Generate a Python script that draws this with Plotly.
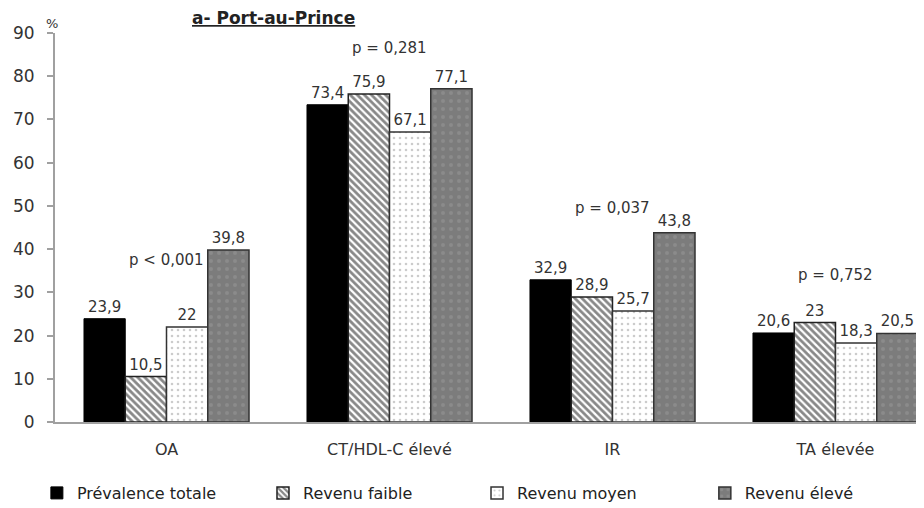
import plotly.graph_objects as go

categories = ["OA", "CT/HDL-C élevé", "IR", "TA élevée"]
series_names = ["Prévalence totale", "Revenu faible", "Revenu moyen", "Revenu élevé"]
prevalence_totale = [23.9, 73.4, 32.9, 20.6]
revenu_faible = [10.5, 75.9, 28.9, 23.0]
revenu_moyen = [22.0, 67.1, 25.7, 18.3]
revenu_eleve = [39.8, 77.1, 43.8, 20.5]
p_values = ["p < 0,001", "p = 0,281", "p = 0,037", "p = 0,752"]
p_heights = [37.5, 86.5, 49.5, 34.0]
y_ticks = [0, 10, 20, 30, 40, 50, 60, 70, 80, 90]

FONT = "DejaVu Sans"
TXT = "#333333"

def fmt(v):
    s = ("%g" % v)
    return s.replace(".", ",")

styles = [
    dict(color="black", line=dict(color="black", width=1), pattern=dict(shape="")),
    dict(color="white", line=dict(color="#222222", width=1.5),
         pattern=dict(shape="\\", fgcolor="#111111", bgcolor="white", size=5, solidity=0.55)),
    dict(color="white", line=dict(color="#333333", width=1.5),
         pattern=dict(shape=".", fgcolor="#9a9a9a", bgcolor="white", size=6, solidity=0.15)),
    dict(color="#808080", line=dict(color="#333333", width=1.5),
         pattern=dict(shape=".", fgcolor="#9a9a9a", bgcolor="#7c7c7c", size=8, solidity=0.2)),
]
legend_ids = ["legend", "legend2", "legend3", "legend4"]
legend_x = [-0.021, 0.241, 0.489, 0.753]

fig = go.Figure()
for name, vals, st, lid in zip(series_names,
                               [prevalence_totale, revenu_faible, revenu_moyen, revenu_eleve],
                               styles, legend_ids):
    fig.add_trace(go.Bar(
        x=categories, y=vals, name=name,
        marker=st, legend=lid,
        text=[fmt(v) for v in vals], textposition="outside",
        textfont=dict(family=FONT, size=15, color=TXT),
        cliponaxis=False,
    ))

for cat, p, h in zip(categories, p_values, p_heights):
    fig.add_annotation(x=cat, y=h, text=p, showarrow=False,
                       font=dict(family=FONT, size=15, color=TXT))

fig.add_annotation(xref="paper", yref="paper", x=0.157, y=1.038, text="<b><u>a- Port-au-Prince</u></b>",
                   showarrow=False, xanchor="left", yanchor="middle",
                   font=dict(family=FONT, size=17, color="#222222"))
fig.add_annotation(xref="paper", yref="paper", x=-0.003, y=1.0, text="%",
                   showarrow=False, xanchor="center", yanchor="bottom",
                   font=dict(family=FONT, size=13, color=TXT))

legend_common = dict(orientation="h", xanchor="left", y=-0.1825, yanchor="middle",
                     itemwidth=30, bgcolor="rgba(0,0,0,0)",
                     font=dict(family=FONT, size=16, color="#222222"))

# the page body has an 8px margin, so the figure is sized and offset to compensate
fig.update_layout(
    width=916, height=500,
    margin=dict(l=47, r=6, t=25, b=86, autoexpand=False),
    paper_bgcolor="white", plot_bgcolor="white",
    barmode="group", bargap=0.26, bargroupgap=0,
    showlegend=True,
    legend=dict(x=legend_x[0], **legend_common),
    legend2=dict(x=legend_x[1], **legend_common),
    legend3=dict(x=legend_x[2], **legend_common),
    legend4=dict(x=legend_x[3], **legend_common),
    xaxis=dict(range=[-0.5, 3.37], showline=True, linecolor="#a0a0a0", linewidth=2,
               ticks="", ticklabelstandoff=12, tickfont=dict(family=FONT, size=16, color=TXT)),
    yaxis=dict(range=[0, 90], tickvals=y_ticks, showline=True, linecolor="#a0a0a0", linewidth=2,
               ticks="outside", ticklen=6, tickcolor="#a0a0a0", tickwidth=1.5, showgrid=False,
               ticklabelstandoff=9, zeroline=False, tickfont=dict(family=FONT, size=17, color=TXT)),
)

fig.write_html("out.html")
